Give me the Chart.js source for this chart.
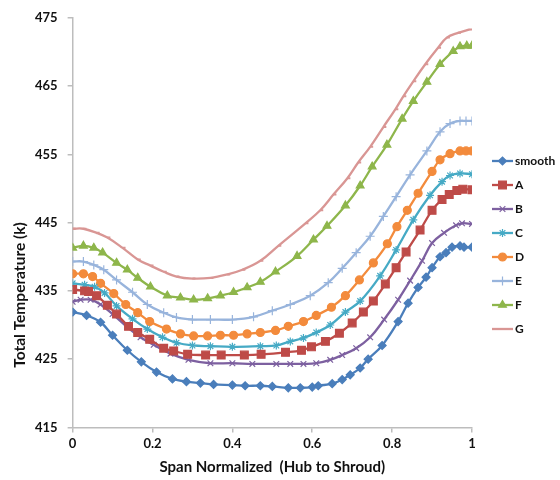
<!DOCTYPE html>
<html>
<head>
<meta charset="utf-8">
<script src="https://cdn.jsdelivr.net/npm/chart.js@4/dist/chart.umd.min.js"></script>
<style>
  html, body { margin: 0; padding: 0; background: #fff; }
  #wrap { width: 560px; height: 480px; }
</style>
</head>
<body>
<div id="wrap"><canvas id="tempChart" width="560" height="480"></canvas></div>
<script>
'use strict';

// span positions and total temperature (K) for each case
var smoothSpan = [0, 0.035, 0.07, 0.10, 0.137, 0.172, 0.21, 0.25, 0.285, 0.32, 0.353, 0.40, 0.432, 0.47, 0.50, 0.54, 0.57, 0.60, 0.615, 0.65, 0.675, 0.695, 0.72, 0.74, 0.775, 0.815, 0.84, 0.865, 0.885, 0.90, 0.92, 0.935, 0.95, 0.97, 0.98, 1.0];
var smoothTemp = [431.9, 431.4, 430.4, 428.5, 426.3, 424.6, 423.1, 422.1, 421.7, 421.5, 421.3, 421.2, 421.1, 421.1, 421.0, 420.8, 420.8, 420.9, 421.1, 421.4, 422.0, 422.7, 423.7, 425.0, 427.0, 430.5, 433.2, 435.5, 437.0, 438.4, 440.0, 440.6, 441.4, 441.6, 441.4, 441.4];

var aSpan = [0, 0.03, 0.04, 0.06, 0.087, 0.11, 0.14, 0.163, 0.193, 0.228, 0.253, 0.288, 0.333, 0.372, 0.43, 0.472, 0.533, 0.573, 0.598, 0.633, 0.668, 0.70, 0.728, 0.753, 0.783, 0.81, 0.835, 0.87, 0.90, 0.925, 0.943, 0.962, 0.977, 1.0];
var aTemp = [435.2, 435.0, 434.9, 434.3, 432.9, 431.6, 429.8, 428.9, 427.9, 426.6, 426.2, 425.7, 425.6, 425.6, 425.6, 425.7, 426.0, 426.3, 426.8, 427.6, 428.8, 430.3, 431.9, 433.5, 436.0, 438.4, 440.7, 443.9, 446.8, 448.4, 449.1, 449.7, 449.9, 449.8];

var bSpan = [0, 0.02, 0.045, 0.07, 0.10, 0.137, 0.17, 0.203, 0.245, 0.29, 0.345, 0.40, 0.45, 0.51, 0.545, 0.578, 0.61, 0.645, 0.675, 0.71, 0.745, 0.78, 0.815, 0.845, 0.875, 0.90, 0.93, 0.96, 0.975, 1.0];
var bTemp = [433.4, 433.7, 433.7, 433.0, 431.6, 429.7, 428.2, 427.1, 425.8, 424.9, 424.4, 424.4, 424.3, 424.3, 424.3, 424.3, 424.4, 424.9, 425.6, 426.6, 428.2, 430.8, 433.7, 436.5, 439.4, 442.0, 443.5, 444.6, 444.9, 444.8];

var cSpan = [0, 0.03, 0.055, 0.08, 0.11, 0.15, 0.187, 0.225, 0.26, 0.30, 0.345, 0.40, 0.47, 0.51, 0.545, 0.578, 0.61, 0.645, 0.683, 0.72, 0.77, 0.81, 0.853, 0.895, 0.925, 0.945, 0.97, 1.0];
var cTemp = [436.1, 435.9, 435.6, 434.7, 432.8, 430.9, 429.4, 428.2, 427.4, 427.0, 426.9, 426.8, 426.9, 427.0, 427.6, 428.1, 428.9, 430.0, 431.9, 433.5, 437.2, 441.0, 445.4, 449.0, 451.0, 451.9, 452.2, 452.1];

var dSpan = [0, 0.027, 0.05, 0.07, 0.103, 0.133, 0.163, 0.193, 0.235, 0.27, 0.303, 0.338, 0.37, 0.403, 0.437, 0.47, 0.508, 0.54, 0.578, 0.61, 0.648, 0.683, 0.718, 0.753, 0.788, 0.812, 0.838, 0.865, 0.9, 0.92, 0.945, 0.97, 0.985, 1.0];
var dTemp = [437.5, 437.5, 437.1, 436.1, 434.6, 433.0, 431.8, 430.5, 429.4, 428.7, 428.4, 428.4, 428.5, 428.5, 428.7, 428.9, 429.2, 429.8, 430.5, 431.4, 432.6, 434.3, 436.6, 439.1, 441.9, 444.4, 446.8, 449.3, 452.5, 454.2, 455.1, 455.5, 455.5, 455.5];

var eSpan = [0, 0.027, 0.053, 0.078, 0.11, 0.15, 0.187, 0.228, 0.26, 0.30, 0.345, 0.40, 0.453, 0.50, 0.545, 0.595, 0.64, 0.675, 0.71, 0.745, 0.778, 0.81, 0.845, 0.887, 0.92, 0.945, 0.97, 0.985, 1.0];
var eTemp = [439.3, 439.3, 438.8, 438.1, 436.6, 434.8, 433.0, 431.8, 431.1, 430.8, 430.8, 430.8, 431.2, 432.1, 433.0, 434.3, 436.2, 438.3, 440.6, 443.0, 445.9, 448.8, 452.0, 455.5, 458.3, 459.5, 459.9, 459.9, 459.9];

var fSpan = [0, 0.027, 0.053, 0.075, 0.11, 0.137, 0.163, 0.195, 0.237, 0.27, 0.303, 0.338, 0.37, 0.403, 0.437, 0.47, 0.508, 0.562, 0.603, 0.637, 0.683, 0.72, 0.75, 0.787, 0.825, 0.853, 0.887, 0.92, 0.953, 0.97, 0.987, 1.0];
var fTemp = [441.3, 441.6, 441.3, 440.6, 439.1, 438.1, 436.9, 435.6, 434.3, 434.0, 433.7, 433.9, 434.3, 434.8, 435.5, 436.3, 437.8, 440.1, 442.5, 444.5, 447.5, 450.4, 453.2, 456.4, 460.2, 462.8, 465.6, 468.2, 470.1, 470.8, 470.9, 470.9];

var gSpan = [0, 0.027, 0.06, 0.087, 0.125, 0.163, 0.195, 0.228, 0.26, 0.30, 0.345, 0.387, 0.425, 0.47, 0.515, 0.583, 0.62, 0.653, 0.688, 0.715, 0.745, 0.778, 0.808, 0.828, 0.853, 0.883, 0.915, 0.937, 0.965, 0.995];
var gTemp = [444.1, 444.1, 443.5, 442.8, 441.3, 439.6, 438.7, 437.8, 437.1, 436.8, 436.9, 437.4, 438.1, 439.4, 441.6, 444.9, 446.8, 449.1, 451.5, 453.8, 456.1, 459.0, 461.6, 463.5, 465.7, 468.2, 470.6, 472.1, 472.8, 473.3];

var seriesNames = ['smooth', 'A', 'B', 'C', 'D', 'E', 'F', 'G'];
var seriesColors = ['#4A7EBB', '#BE4B48', '#7D60A0', '#46AAC5', '#F38B3C', '#98B4DC', '#8EB64B', '#D99694'];
var markerStyles = ['rectRot', 'rect', 'crossRot', 'star', 'circle', 'cross', 'triangle', 'dash'];
var markerSizes = [4, 5.5, 4, 4, 4, 4.5, 4.5, 3];

var yTicks = [415, 425, 435, 445, 455, 465, 475];

var spans = [smoothSpan, aSpan, bSpan, cSpan, dSpan, eSpan, fSpan, gSpan];
var temps = [smoothTemp, aTemp, bTemp, cTemp, dTemp, eTemp, fTemp, gTemp];

var FONT = 'Lato, "Liberation Sans", sans-serif';

function pairs(xs, ys) {
	var out = [];
	for (var i = 0; i < xs.length; i++) out.push({ x: xs[i], y: ys[i] });
	return out;
}

var datasets = seriesNames.map(function (name, i) {
	var c = seriesColors[i];
	return {
		label: name,
		data: pairs(spans[i], temps[i]),
		borderColor: c,
		backgroundColor: c,
		borderWidth: 2.3,
		tension: 0.4,
		pointStyle: markerStyles[i],
		pointRadius: markerSizes[i],
		pointBackgroundColor: c,
		pointBorderColor: c,
		pointBorderWidth: markerStyles[i] === 'dash' ? 2 : 1.2
	};
});

// legend on the right: short line with the marker in the middle, then the name
var sideLegend = {
	id: 'sideLegend',
	afterDraw: function (chart) {
		var ctx = chart.ctx;
		var x0 = chart.chartArea.right + 20;
		var y0 = 161;
		var step = 24;
		ctx.save();
		ctx.font = 'bold 12px ' + FONT;
		ctx.textBaseline = 'middle';
		chart.data.datasets.forEach(function (ds, i) {
			var y = y0 + i * step;
			ctx.strokeStyle = ds.borderColor;
			ctx.lineWidth = 2.3;
			ctx.beginPath();
			ctx.moveTo(x0, y);
			ctx.lineTo(x0 + 21, y);
			ctx.stroke();
			ctx.fillStyle = ds.borderColor;
			ctx.strokeStyle = ds.borderColor;
			ctx.lineWidth = ds.pointBorderWidth;
			Chart.helpers.drawPoint(ctx, { pointStyle: ds.pointStyle, radius: ds.pointRadius, borderWidth: ds.pointBorderWidth }, x0 + 10.5, y);
			ctx.fillStyle = '#111';
			ctx.fillText(ds.label, x0 + 23, y + 0.5);
		});
		ctx.restore();
	}
};

// rotated y axis title, sitting a little below the middle of the axis
var yTitle = {
	id: 'yTitle',
	afterDraw: function (chart) {
		var ctx = chart.ctx;
		ctx.save();
		ctx.translate(20, 295);
		ctx.rotate(-Math.PI / 2);
		ctx.font = 'bold 15.5px ' + FONT;
		ctx.fillStyle = '#111';
		ctx.textAlign = 'center';
		ctx.textBaseline = 'middle';
		ctx.fillText('Total Temperature (k)', 0, 0);
		ctx.restore();
	}
};

new Chart(document.getElementById('tempChart'), {
	type: 'line',
	data: { datasets: datasets },
	plugins: [sideLegend, yTitle],
	options: {
		responsive: false,
		animation: false,
		layout: { padding: { left: 25, right: 88, top: 6, bottom: 4 } },
		plugins: {
			legend: { display: false },
			tooltip: { enabled: false },
			title: { display: false }
		},
		scales: {
			x: {
				type: 'linear',
				min: 0,
				max: 1,
				ticks: {
					stepSize: 0.2,
					padding: 4,
					color: '#111',
					font: { family: FONT, size: 13, weight: 'bold' },
					callback: function (v) { return Math.round(v * 10) / 10; }
				},
				grid: { display: true, drawOnChartArea: false, drawTicks: true, tickLength: 5, color: '#BDBDBD', lineWidth: 1.5 },
				border: { display: true, color: '#BDBDBD', width: 1.5 },
				title: {
					display: true,
					text: 'Span Normalized  (Hub to Shroud)',
					color: '#111',
					font: { family: FONT, size: 15, weight: 'bold' },
					padding: { top: 2, bottom: 0 }
				}
			},
			y: {
				min: 415,
				max: 475,
				afterBuildTicks: function (axis) {
					axis.ticks = yTicks.map(function (v) { return { value: v }; });
				},
				ticks: {
					padding: 10,
					color: '#111',
					font: { family: FONT, size: 13, weight: 'bold' }
				},
				grid: { display: true, drawOnChartArea: false, drawTicks: true, tickLength: 5, color: '#BDBDBD', lineWidth: 1.5 },
				border: { display: true, color: '#BDBDBD', width: 1.5 }
			}
		}
	}
});
</script>
</body>
</html>
